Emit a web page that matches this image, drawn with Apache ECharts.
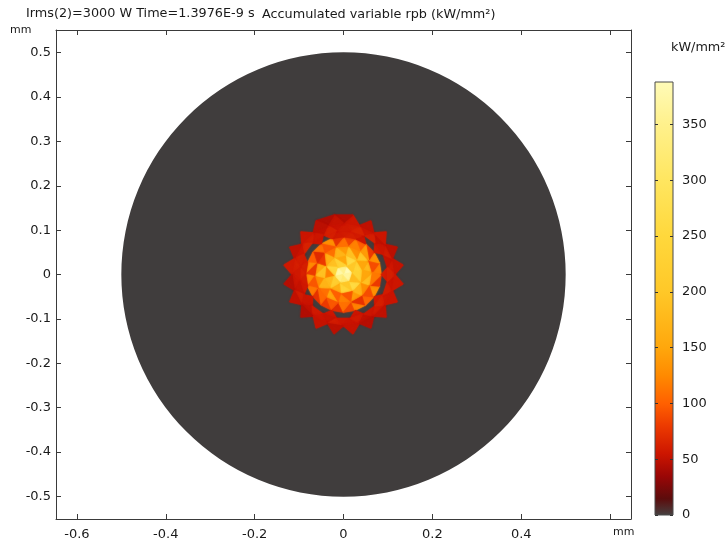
<!DOCTYPE html>
<html>
<head>
<meta charset="utf-8">
<title>Accumulated variable rpb</title>
<script src="https://cdn.jsdelivr.net/npm/echarts@6/dist/echarts.min.js"></script>
<style>
  html, body { margin: 0; padding: 0; background: #fff; }
  #main { width: 728px; height: 544px; }
</style>
</head>
<body>
<div id="main"></div>
<script>
// axis ticks (mm) and colour bar ticks (kW/mm^2)
var xTicks = [-0.6, -0.4, -0.2, 0, 0.2, 0.4, 0.6];
var xLabels = [-0.6, -0.4, -0.2, 0, 0.2, 0.4];
var yTicks = [-0.5, -0.4, -0.3, -0.2, -0.1, 0, 0.1, 0.2, 0.3, 0.4, 0.5];
var colorbarTicks = [0, 50, 100, 150, 200, 250, 300, 350];
var colorbarMax = 388;

// wire cross-section
var diskRadius = 0.5;

// mesh rings around the centre: radius (mm), node count, angular offset (in steps)
var ringRadii = [0, 0.021, 0.044, 0.065, 0.085, 0.1, 0.116, 0.136];
var ringNodes = [1, 6, 10, 14, 20, 20, 20, 20];
var ringOffsets = [0, 0.2, 0.35, 0.15, 0, 0.5, 0, 0.5];

// triangle values per band, counter-clockwise from +x (null = no value, shows the wire)
var band0 = [388, 350, 375, 340, 320, 365];
var band1 = [240, 200, 260, 150, 230, 190, 250, 120, 180, 220, 160, 240, 200, 260, 180, 230];
var band2 = [180, 150, 200, 130, 190, 140, 170, 110, 160, 80, 150, 190,
             130, 170, 110, 150, 100, 120, 95, 140, 170, 130, 190, 150];
var band3 = [120, 90, 130, 80, 140, 100, 120, 85, 110, 75, 130, 95, 110, 70, 100, 125, 80,
             130, 95, 115, 75, 105, 80, 95, 70, 110, 85, 120, 75, 105, 90, 130, 80, 115];
var band4 = [null, null, null, 58, null, null, 55, 60, 62, 60, 58, 62, null, 55, null, null,
             null, 60, 62, 64, 60, 58, null, 55, null, null, null, 56, null, null, null, 55,
             null, null, null, 58, null, null, null, 60];
var band5 = [58, 52, 60, 55, 50, 62, 56, 64, 60, 58, 54, 62, 50, 56, 60, 64,
             55, 60, 62, 58, 56, 52, 60, 54, 50, 58, 55, 52, 60, 56, 54, 58,
             50, 55, 58, 62, 56, 60, 54, 62];
var band6 = [52, null, 48, null, 55, null, 50, null, 56, 45, 52, 44, 48, null, 55, null,
             50, null, 58, null, 46, null, 50, null, 44, null, 52, null, 48, null, 52, null,
             46, null, 50, null, 54, null, 56, null];
var bands = [band0, band1, band2, band3, band4, band5, band6];

// colour map of the legend, value -> colour
var mapValues = [0, 15, 35, 55, 80, 100, 125, 150, 200, 250, 300, 350, 388];
var mapColors = ['#454141', '#5c0c0c', '#9a0606', '#cc1500', '#ec3a00', '#ff6000', '#ff8a00',
                 '#ffa70c', '#ffc828', '#ffd83c', '#ffe660', '#fff18c', '#fffbb8'];

function hexRgb(h) {
  return [parseInt(h.substr(1, 2), 16), parseInt(h.substr(3, 2), 16), parseInt(h.substr(5, 2), 16)];
}
function colorAt(v) {
  if (v <= mapValues[0]) return mapColors[0];
  for (var i = 1; i < mapValues.length; i++) {
    if (v <= mapValues[i]) {
      var t = (v - mapValues[i - 1]) / (mapValues[i] - mapValues[i - 1]);
      var a = hexRgb(mapColors[i - 1]), b = hexRgb(mapColors[i]);
      return 'rgb(' + Math.round(a[0] + (b[0] - a[0]) * t) + ',' +
        Math.round(a[1] + (b[1] - a[1]) * t) + ',' + Math.round(a[2] + (b[2] - a[2]) * t) + ')';
    }
  }
  return mapColors[mapColors.length - 1];
}

function ringPoint(r, j) {
  var n = ringNodes[r];
  var ang = (j + ringOffsets[r]) * 2 * Math.PI / n;
  return [ringRadii[r] * Math.cos(ang), ringRadii[r] * Math.sin(ang)];
}

// stitch neighbouring rings into triangles: [value, x1, y1, x2, y2, x3, y3]
var meshData = [];
function pushTri(v, p1, p2, p3) {
  if (v == null) return;
  meshData.push([v, p1[0], p1[1], p2[0], p2[1], p3[0], p3[1]]);
}
for (var b = 0; b < bands.length; b++) {
  var vals = bands[b];
  var na = ringNodes[b], nb = ringNodes[b + 1];
  if (na === 1) {
    for (var k = 0; k < nb; k++) {
      pushTri(vals[k], [0, 0], ringPoint(b + 1, k), ringPoint(b + 1, k + 1));
    }
    continue;
  }
  var i = 0, k2 = 0, t = 0;
  while (i < na || k2 < nb) {
    var angA = (i + 1 + ringOffsets[b]) / na;
    var angB = (k2 + 1 + ringOffsets[b + 1]) / nb;
    if (i < na && (k2 >= nb || angA < angB)) {
      pushTri(vals[t], ringPoint(b, i), ringPoint(b, i + 1), ringPoint(b + 1, k2));
      i++;
    } else {
      pushTri(vals[t], ringPoint(b, i), ringPoint(b + 1, k2), ringPoint(b + 1, k2 + 1));
      k2++;
    }
    t++;
  }
}

var font = 'DejaVu Sans';
var lineCol = '#3a3a3a';

function frameAxis(pos, isX, labels) {
  var ticks = isX ? xTicks : yTicks;
  return {
    type: 'value',
    gridIndex: 0,
    position: pos,
    min: isX ? -0.647 : -0.551,
    max: isX ? 0.647 : 0.551,
    axisLine: { show: true, onZero: false, lineStyle: { color: lineCol, width: 1 } },
    axisTick: { show: true, inside: true, length: 5, customValues: ticks, lineStyle: { color: lineCol, width: 1 } },
    axisLabel: { show: labels, customValues: isX ? xLabels : yTicks, color: '#1a1a1a', fontSize: 13, fontFamily: font, margin: isX ? 9 : 5 },
    splitLine: { show: false }
  };
}

var barGradient = new echarts.graphic.LinearGradient(0, 1, 0, 0,
  mapValues.map(function (v, i) { return { offset: v / colorbarMax, color: mapColors[i] }; }));

var chart = echarts.init(document.getElementById('main'), null, { renderer: 'canvas' });
chart.setOption({
  animation: false,
  backgroundColor: '#ffffff',
  grid: [
    { left: 56, top: 30, width: 575, height: 489, containLabel: false },
    { left: 655, top: 82, width: 18, height: 433, containLabel: false }
  ],
  xAxis: [
    frameAxis('bottom', true, true),
    frameAxis('top', true, false),
    { type: 'value', gridIndex: 1, min: 0, max: 1, show: false }
  ],
  yAxis: [
    frameAxis('left', false, true),
    frameAxis('right', false, false),
    {
      type: 'value', gridIndex: 1, position: 'left', min: 0, max: colorbarMax, z: 10,
      axisLine: { show: false },
      axisTick: { show: true, inside: true, length: 3, customValues: colorbarTicks, lineStyle: { color: '#333' } },
      axisLabel: { show: false },
      splitLine: { show: false }
    },
    {
      type: 'value', gridIndex: 1, position: 'right', min: 0, max: colorbarMax, z: 10,
      axisLine: { show: false },
      axisTick: { show: true, inside: true, length: 3, customValues: colorbarTicks, lineStyle: { color: '#333' } },
      axisLabel: { show: true, customValues: colorbarTicks, color: '#1a1a1a', fontSize: 13, fontFamily: font, margin: 9 },
      splitLine: { show: false }
    }
  ],
  series: [
    {
      type: 'custom',
      xAxisIndex: 0, yAxisIndex: 0,
      silent: true,
      data: [[0, 0, diskRadius]],
      renderItem: function (params, api) {
        var c = api.coord([api.value(0), api.value(1)]);
        var r = api.size([api.value(2), 0])[0];
        return { type: 'circle', shape: { cx: c[0], cy: c[1], r: r }, style: { fill: '#403d3d' } };
      }
    },
    {
      type: 'custom',
      xAxisIndex: 0, yAxisIndex: 0,
      silent: true,
      encode: { x: [1, 3, 5], y: [2, 4, 6] },
      data: meshData,
      renderItem: function (params, api) {
        var pts = [
          api.coord([api.value(1), api.value(2)]),
          api.coord([api.value(3), api.value(4)]),
          api.coord([api.value(5), api.value(6)])
        ];
        var col = colorAt(api.value(0));
        return {
          type: 'polygon', shape: { points: pts },
          style: { fill: col, stroke: col, lineWidth: 0.7, shadowBlur: 1.5, shadowColor: col }
        };
      }
    },
    {
      type: 'custom',
      xAxisIndex: 2, yAxisIndex: 2,
      silent: true,
      data: [[0, colorbarMax]],
      renderItem: function (params, api) {
        var tl = api.coord([0, api.value(1)]);
        var br = api.coord([1, api.value(0)]);
        return {
          type: 'rect',
          shape: { x: tl[0], y: tl[1], width: br[0] - tl[0], height: br[1] - tl[1] },
          style: { fill: barGradient, stroke: '#4a4a4a', lineWidth: 1 }
        };
      }
    }
  ],
  graphic: [
    { type: 'text', left: 26, top: 7, style: { text: 'Irms(2)=3000 W Time=1.3976E-9 s', font: '12.8px "DejaVu Sans"', fill: '#1a1a1a' } },
    { type: 'text', left: 262, top: 8, style: { text: 'Accumulated variable rpb (kW/mm²)', font: '12.8px "DejaVu Sans"', fill: '#1a1a1a' } },
    { type: 'text', left: 10, top: 25, style: { text: 'mm', font: '11px "DejaVu Sans"', fill: '#1a1a1a' } },
    { type: 'text', left: 613, top: 527, style: { text: 'mm', font: '11px "DejaVu Sans"', fill: '#1a1a1a' } },
    { type: 'text', left: 671, top: 41, style: { text: 'kW/mm²', font: '12.8px "DejaVu Sans"', fill: '#1a1a1a' } }
  ]
});
</script>
</body>
</html>
